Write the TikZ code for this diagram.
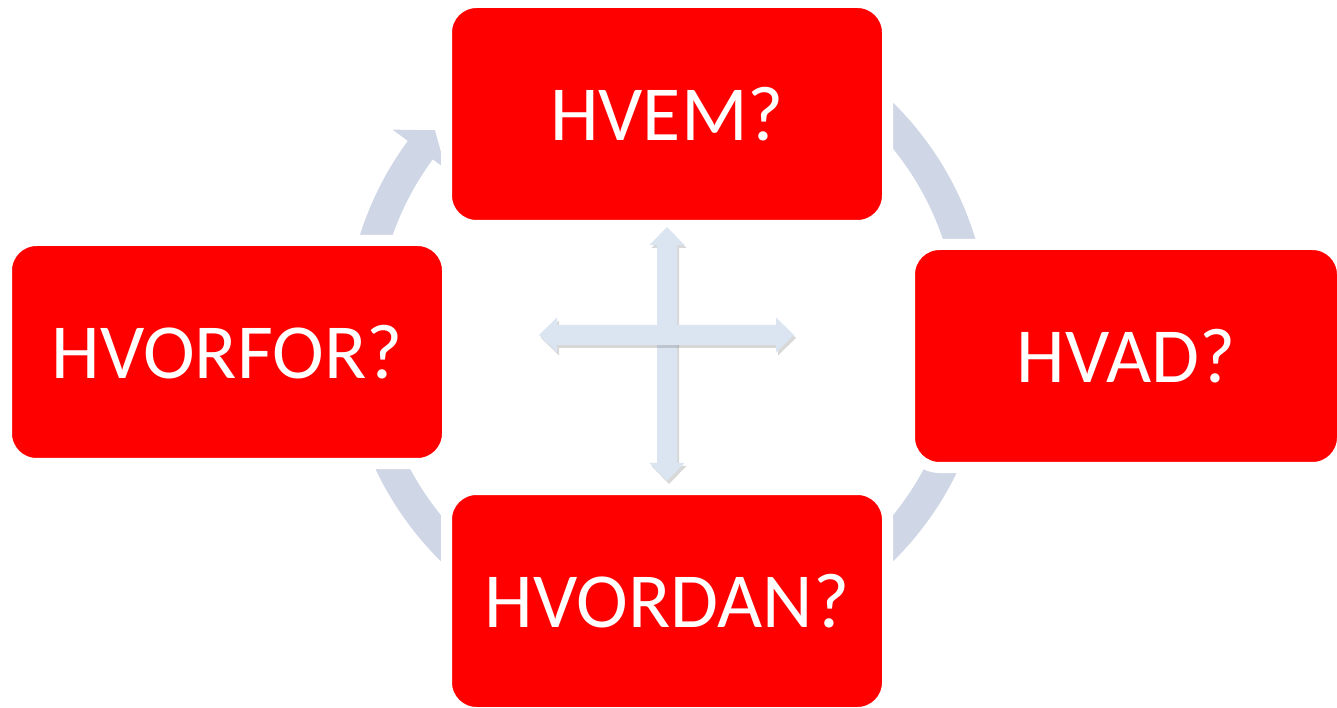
\documentclass[tikz,border=0pt]{standalone}
\usepackage{fontspec}
\setmainfont{Carlito}
\usepackage{xcolor}
\usetikzlibrary{calc}
\usetikzlibrary{shadows}
\definecolor{ringblue}{RGB}{207,214,230}
\definecolor{crossblue}{RGB}{219,228,241}

\begin{document}
\begin{tikzpicture}[x=0.5pt,y=0.5pt,
  qbox/.style={rectangle,rounded corners=15pt,fill=red,draw=white,line width=5.5pt,minimum width=220.5pt,minimum height=111.5pt,text=white,font=\fontsize{39}{42}\selectfont},
  ringarc/.style={draw=ringblue,line width=15.5pt},
  crossarrow/.style={fill=crossblue,drop shadow={shadow xshift=1pt,shadow yshift=-1.5pt,opacity=0.25,fill=black!60}}]
\useasboundingbox (0,0) rectangle (1337,707);
\fill[white] (0,0) rectangle (1337,707);
\coordinate (C) at (667,375);
\draw[ringarc] ($(C)+(90:306.5)$) arc[start angle=90,end angle=-216.5,radius=306.5];
\fill[ringblue] ($(C)+(143.6:341)$) -- ($(C)+(139:307.5)$) -- ($(C)+(143.6:275)$) -- cycle;
\node[qbox] (hvem) at (667,593) {HVEM?};
\node[qbox,minimum width=216.5pt] (hvad) at (1126,351) {HVAD?};
\node[qbox] (hvordan) at (667,106) {HVORDAN?};
\node[qbox] (hvorfor) at (227,355) {HVORFOR?};
\path[crossarrow] (667,480) -- (684.5,462) -- (677,462) -- (677,244) -- (684.5,244) -- (667,226) -- (649.5,244) -- (657,244) -- (657,462) -- (649.5,462) -- cycle;
\path[crossarrow] (539,372) -- (557,389.5) -- (557,382) -- (776,382) -- (776,389.5) -- (794,372) -- (776,354.5) -- (776,362) -- (557,362) -- (557,354.5) -- cycle;
\end{tikzpicture}
\end{document}
